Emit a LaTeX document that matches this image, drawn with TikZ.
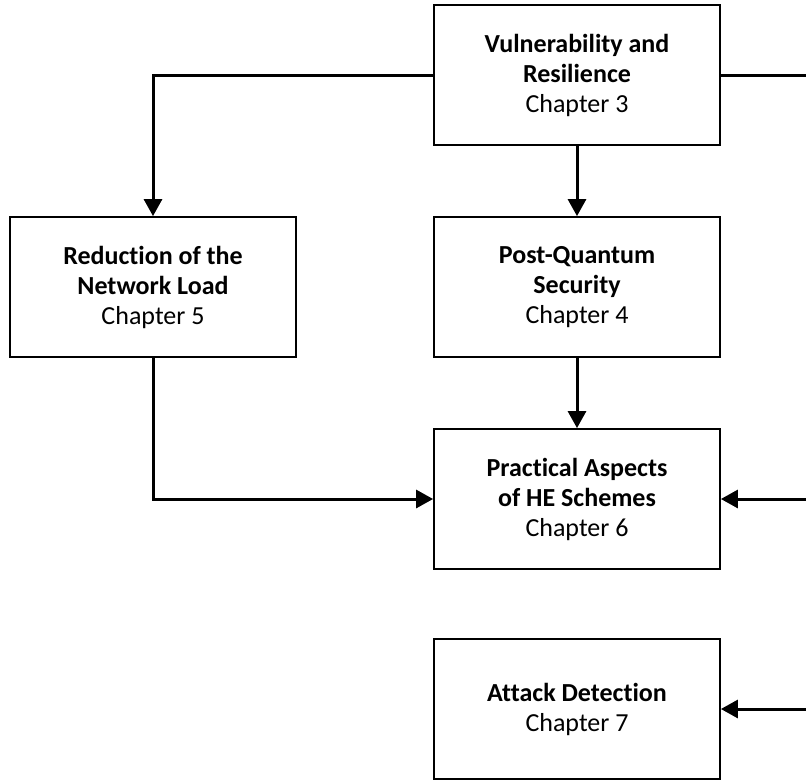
\documentclass[tikz,border=0pt]{standalone}
\usepackage{fontspec}
\setmainfont[Ligatures={NoCommon}]{Carlito}
\usetikzlibrary{arrows.meta}
\begin{document}
\begin{tikzpicture}[x=1pt,y=-1pt,
  chap/.style={draw=black,line width=1.8pt,minimum width=286pt,minimum height=140pt,
    align=center,font=\fontsize{26}{30}\selectfont,inner sep=0pt},
  link/.style={line width=3pt,-{Triangle[length=17pt,width=18pt]}},
  plain/.style={line width=3pt}]
\useasboundingbox (0,0) rectangle (806,780);
\node[chap] (c3) at (577,75)  {\textbf{Vulnerability and}\\\textbf{Resilience}\\Chapter 3};
\node[chap] (c5) at (153,287) {\textbf{Reduction of the}\\\textbf{Network Load}\\Chapter 5};
\node[chap] (c4) at (577,287) {\textbf{Post-Quantum}\\\textbf{Security}\\Chapter 4};
\node[chap] (c6) at (577,499) {\textbf{Practical Aspects}\\\textbf{of HE Schemes}\\Chapter 6};
\node[chap] (c7) at (577,709) {\textbf{Attack Detection}\\Chapter 7};
\coordinate (r3) at (806,75);
\coordinate (r6) at (806,499);
\coordinate (r7) at (806,709);
\draw[link] (c3.west) -| (c5.north);
\draw[plain] (c3.east) -- (r3);
\draw[link] (c3.south) -- (c4.north);
\draw[link] (c4.south) -- (c6.north);
\draw[link] (c5.south) |- (c6.west);
\draw[link] (r6) -- (c6.east);
\draw[link] (r7) -- (c7.east);
\end{tikzpicture}
\end{document}
